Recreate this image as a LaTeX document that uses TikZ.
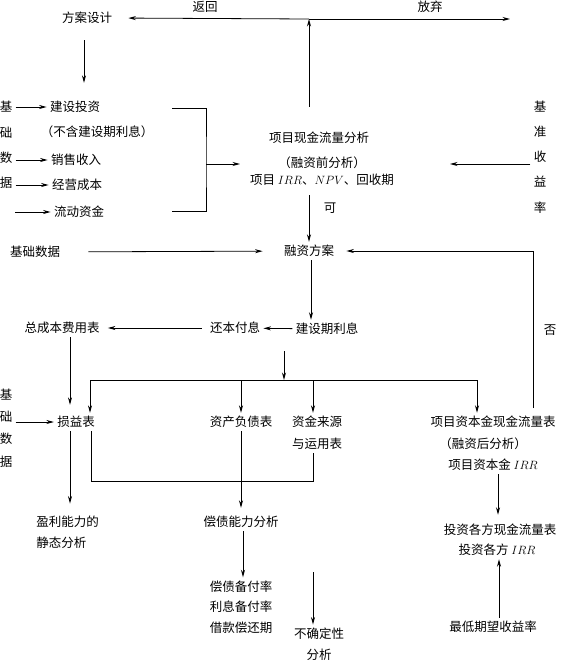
\documentclass[tikz,border=0pt]{standalone}
\usepackage{fontspec}
\usepackage{tikz}
\usetikzlibrary{arrows.meta}
\newfontfamily\cjk{Noto Sans CJK SC}

\begin{document}
\begin{tikzpicture}[x=1pt,y=-1pt,line width=0.8pt,
    >={Stealth[length=7.5pt,width=4pt]},
    font=\cjk\fontsize{12.5}{20.5}\selectfont,inner sep=3pt,
    vtext/.style={align=center,font=\cjk\fontsize{12.5}{25.2}\selectfont},
    block/.style={align=center}]
    \useasboundingbox (0,0) rectangle (560,672);

    % design and first analysis
    \node (fasj) at (87,18) {方案设计};
    \node (fanhui) at (205,7) {返回};
    \node (fangqi) at (430,7) {放弃};
    \node[vtext] (jcA) at (6,145) {基\\础\\数\\据};
    \node (jstz) at (75,107) {建设投资};
    \node (bhlx) at (97,132) {（不含建设期利息）};
    \node (xssr) at (76,160) {销售收入};
    \node (jycb) at (77,185) {经营成本};
    \node (ldzj) at (79,212) {流动资金};
    \node (xj1) at (319,138) {项目现金流量分析};
    \node (xj2) at (322,163) {（融资前分析）};
    \node (xj3) at (322,180) {项目 $IRR$、$NPV$、回收期};
    \node (ke) at (330,208) {可};
    \node[vtext] (jz) at (540,157) {基\\准\\收\\益\\率};

    \coordinate (fk) at (309,19);
    \coordinate (fq) at (510,19);
    \coordinate (lds) at (15,212);
    \coordinate (bk1) at (172,108);
    \coordinate (bk2) at (172,211);
    \coordinate (bkm) at (206,164);
    \coordinate (xjin) at (240,164);
    \coordinate (jzin) at (450,164);

    \draw[->] (fk) -- (fq);
    \draw[->,shorten >=13pt] (fk) -- (fasj.east);
    \draw[->,shorten <=22pt] (xj1.north -| fk) -- (fk);
    \draw[->,shorten <=13pt,shorten >=15pt] (fasj.south -| 84,0) -- (jstz.north -| 84,0);
    \draw[->] (jcA.east |- jstz) -- (jstz);
    \draw[->] (jcA.east |- xssr) -- (xssr);
    \draw[->] (jcA.east |- jycb) -- (jycb);
    \draw[->] (lds) -- (ldzj);
    \draw (bk1) -| (bkm) |- (bk2);
    \draw[->] (bkm) -- (xjin);
    \draw[->] (jz.west |- jzin) -- (jzin);

    % financing
    \node (jcsj) at (35,252) {基础数据};
    \node (rzfa) at (309,251) {融资方案};
    \node (jsqlx) at (327,329) {建设期利息};
    \node (hbfx) at (235,328) {还本付息};
    \node (zcb) at (62,328) {总成本费用表};
    \node (fou) at (550,330) {否};

    \coordinate (fb) at (533,408);
    \coordinate (fz) at (284,380);
    \coordinate (dL) at (90,380);
    \coordinate (dR) at (477,380);

    \draw[->,shorten <=6pt] (xj3.south -| rzfa) -- (rzfa);
    \draw[->,shorten <=25pt,shorten >=18pt] (jcsj) -- (rzfa);
    \draw[->,shorten >=9pt] (fb) |- (rzfa.east);
    \draw[->] (rzfa.south -| 311,0) -- (jsqlx.north -| 311,0);
    \draw[->] (jsqlx) -- (hbfx);
    \draw[->,shorten <=5pt,shorten >=5pt] (hbfx) -- (zcb);
    \draw[->,shorten <=13pt] (jsqlx.south -| fz) -- (fz);
    \draw (dL) -- (dR);

    % reports
    \node[vtext,font=\cjk\fontsize{12.5}{22.3}\selectfont] (jcB) at (6,428) {基\\础\\数\\据};
    \node (syb) at (76,422) {损益表};
    \node (zcfzb) at (241,422) {资产负债表};
    \node (zjly) at (317,422) {资金来源};
    \node (zjly2) at (317,444) {与运用表};
    \node (zbj1) at (493,422) {项目资本金现金流量表};
    \node (zbj2) at (483,444) {（融资后分析）};
    \node (zbj3) at (493,465) {项目资本金 $IRR$};

    \coordinate (hb) at (313,481);

    \draw[->,shorten >=8pt] (zcb.south -| 70,0) -- (syb.north -| 70,0);
    \draw[->] (dL) -- (dL |- syb.north);
    \draw[->] (zcfzb |- dL) -- (zcfzb.north);
    \draw[->] (hb |- dL) -- (hb |- zjly.north);
    \draw[->] (dR) -- (dR |- zbj1.north);
    \draw[->] (jcB.east |- syb) -- (syb);

    % analyses
    \node[align=left,anchor=west] (ylnl) at (33,532) {盈利能力的\\静态分析};
    \node (cnl) at (241,522) {偿债能力分析};
    \node[block] (zb) at (241,607) {偿债备付率\\利息备付率\\借款偿还期};
    \node[block] (bqd) at (319,644) {不确定性\\分析};
    \node (tzgf1) at (500,530) {投资各方现金流量表};
    \node (tzgf2) at (497,550) {投资各方 $IRR$};
    \node (zdqw) at (493,627) {最低期望收益率};

    \coordinate (bq0) at (313,572);

    \draw[->,shorten >=9pt] (syb.south -| 70,0) -- (ylnl.north -| 70,0);
    \draw (syb.south -| 91,0) |- (hb) -- (hb |- zjly2.south);
    \draw[->,shorten >=5pt] (zcfzb) -- (cnl);
    \draw[->] (cnl.south -| 243,0) -- (zb.north -| 243,0);
    \draw[->] (bq0) -- (bq0 |- bqd.north);
    \draw[->,shorten >=6pt] (zbj3.south -| 498,0) -- (tzgf1.north -| 498,0);
    \draw[->] (zdqw.north -| 499,0) -- (tzgf2.south -| 499,0);
\end{tikzpicture}
\end{document}
